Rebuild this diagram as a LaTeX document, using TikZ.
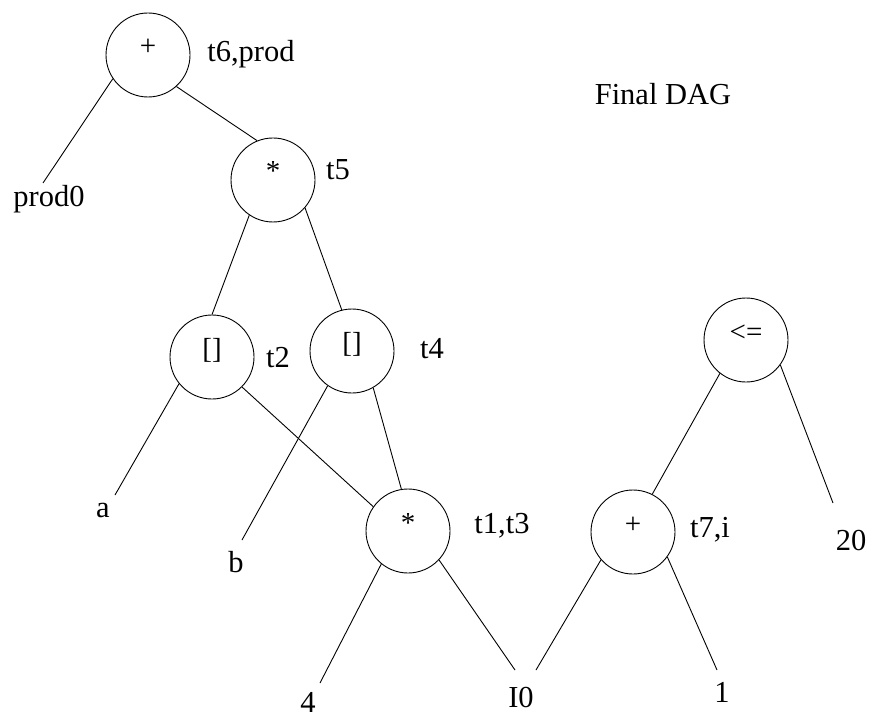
\documentclass[tikz,border=0pt]{standalone}
\usepackage{fontspec}
\setmainfont{Liberation Serif}
\begin{document}
\begin{tikzpicture}[x=1pt,y=-1pt,
  opnode/.style={draw,circle,minimum size=84pt,inner sep=0pt,line width=0.9pt,
    text height=15pt,text depth=13pt,font=\fontsize{29}{30}\selectfont},
  lbl/.style={anchor=base,inner sep=0pt,font=\fontsize{30.5}{31}\selectfont},
  edge/.style={line width=0.9pt}]
\useasboundingbox (0,0) rectangle (869,719);
% operator circles
\node[opnode] (plus1) at (148,55) {+};
\node[opnode] (mul5) at (273,180) {*};
\node[opnode] (idx2) at (212,357) {[]};
\node[opnode] (idx4) at (352,351) {[]};
\node[opnode] (mul13) at (408,531) {*};
\node[opnode] (le) at (746,340) {<=};
\node[opnode] (plus7) at (633,532) {+};
% labels
\node[lbl] (l6) at (251,62) {t6,prod};
\node[lbl] (l5) at (338,180) {t5};
\node[lbl] (l2) at (278,367) {t2};
\node[lbl] (l4) at (432,358) {t4};
\node[lbl] (l13) at (502,533) {t1,t3};
\node[lbl] (l7) at (710,537) {t7,i};
\node[lbl] (title) at (663,105) {Final DAG};
% leaves
\node[lbl] (prod0) at (49,207) {prod0};
\node[lbl] (a) at (103,517) {a};
\node[lbl] (b) at (236,572) {b};
\node[lbl] (four) at (308,712) {4};
\node[lbl] (i0) at (521,707) {I0};
\node[lbl] (one) at (722,702) {1};
\node[lbl] (twenty) at (851,550) {20};
% free ends of connectors above the leaves
\coordinate (prod0end) at (43,183);
\coordinate (aend) at (115,495);
\coordinate (bend) at (242,540);
\coordinate (fourend) at (320,683);
\coordinate (i0endA) at (515,670);
\coordinate (i0endB) at (536,670);
\coordinate (oneend) at (717,670);
\coordinate (twentyend) at (833,503);
% connectors
\draw[edge] (plus1.214) -- (prod0end);
\draw[edge] (plus1.312) -- (mul5.112);
\draw[edge] (mul5.236) -- (idx2.90);
\draw[edge] (mul5.319) -- (idx4.104);
\draw[edge] (idx2.219) -- (aend);
\draw[edge] (idx2.315) -- (mul13.145);
\draw[edge] (idx4.235) -- (bend);
\draw[edge] (idx4.300) -- (mul13.99);
\draw[edge] (mul13.231) -- (fourend);
\draw[edge] (mul13.317) -- (i0endA);
\draw[edge] (le.232) -- (plus7.63);
\draw[edge] (le.324) -- (twentyend);
\draw[edge] (plus7.221) -- (i0endB);
\draw[edge] (plus7.324) -- (oneend);
\end{tikzpicture}
\end{document}
